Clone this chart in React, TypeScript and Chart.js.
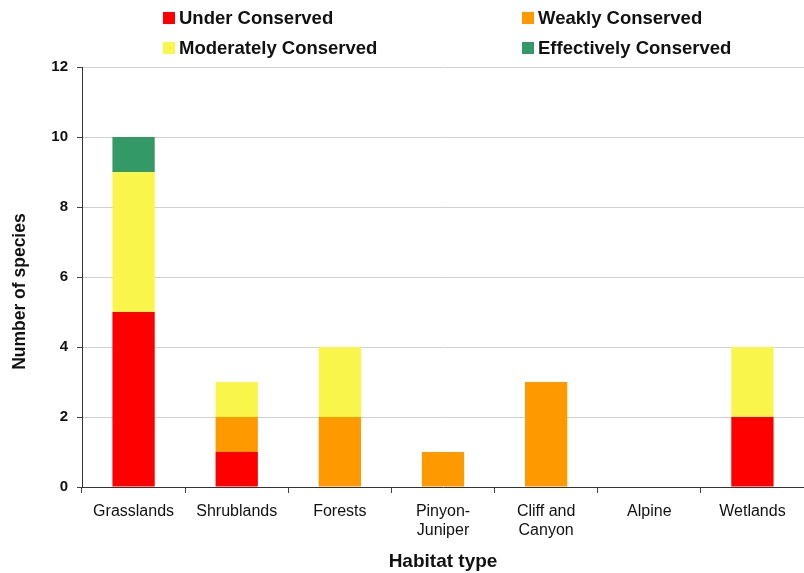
import React, { useEffect, useRef } from "react";
import { Chart, registerables } from "chart.js";

Chart.register(...registerables);

const categories: (string | string[])[] = [
  "Grasslands",
  "Shrublands",
  "Forests",
  ["Pinyon-", "Juniper"],
  ["Cliff and", "Canyon"],
  "Alpine",
  "Wetlands",
];

const seriesNames = [
  "Under Conserved",
  "Weakly Conserved",
  "Moderately Conserved",
  "Effectively Conserved",
];
const underConserved = [5, 1, 0, 0, 0, 0, 2];
const weaklyConserved = [0, 1, 2, 1, 3, 0, 0];
const moderatelyConserved = [4, 1, 2, 0, 0, 0, 2];
const effectivelyConserved = [1, 0, 0, 0, 0, 0, 0];
const seriesColors = ["#FF0000", "#FF9900", "#F9F54B", "#339966"];

const yTickMin = 0;
const yTickMax = 12;
const yTickStep = 2;

const FONT = "'Liberation Sans', Arial, Helvetica, sans-serif";

const legendPlugin = {
  id: "twoColLegend",
  afterDraw(chart: any) {
    const ctx = chart.ctx;
    const cols = [163, 522];
    const rows = [18, 48];
    ctx.save();
    ctx.font = `bold 18.5px ${FONT}`;
    ctx.textBaseline = "middle";
    ctx.textAlign = "left";
    chart.data.datasets.forEach((ds: any, i: number) => {
      const x = cols[i % 2];
      const y = rows[Math.floor(i / 2)];
      ctx.fillStyle = ds.backgroundColor;
      ctx.fillRect(x, y - 6, 12, 12);
      ctx.fillStyle = "#111111";
      ctx.fillText(ds.label, x + 16, y + 1);
    });
    ctx.restore();
  },
};

export default function App() {
  const ref = useRef<HTMLCanvasElement | null>(null);
  useEffect(() => {
    if (!ref.current) return;
    const values = [underConserved, weaklyConserved, moderatelyConserved, effectivelyConserved];
    const chart = new Chart(ref.current, {
      type: "bar",
      data: {
        labels: categories,
        datasets: values.map((v, i) => ({
          label: seriesNames[i],
          data: v,
          backgroundColor: seriesColors[i],
          borderWidth: 0,
          categoryPercentage: 1,
          barPercentage: 0.41,
        })),
      },
      options: {
        responsive: false,
        animation: false,
        layout: { padding: { top: 67, left: 0, right: 0, bottom: 0 } },
        plugins: {
          legend: { display: false },
          tooltip: { enabled: false },
        },
        scales: {
          x: {
            stacked: true,
            afterFit: (s: any) => {
              s.height = 86;
            },
            grid: {
              display: true,
              drawOnChartArea: false,
              drawTicks: true,
              tickLength: 6,
              tickColor: "#444444",
              offset: true,
            },
            border: { display: true, color: "#333333", width: 1 },
            ticks: {
              color: "#111111",
              font: { family: FONT, size: 16 },
              padding: 9,
              maxRotation: 0,
              autoSkip: false,
            },
            title: {
              display: true,
              text: "Habitat type",
              color: "#111111",
              font: { family: FONT, size: 19, weight: "bold" },
              padding: { top: 0, bottom: 0 },
            },
          },
          y: {
            stacked: true,
            min: yTickMin,
            max: yTickMax,
            afterFit: (s: any) => {
              s.width = 82;
            },
            grid: {
              color: "#D0D0D0",
              lineWidth: 1,
              drawTicks: true,
              tickLength: 5,
              tickColor: "#444444",
            },
            border: { display: true, color: "#333333", width: 1 },
            ticks: {
              stepSize: yTickStep,
              color: "#111111",
              font: { family: FONT, size: 15, weight: "bold" },
              padding: 9,
            },
            title: {
              display: true,
              text: "Number of species      ",
              color: "#111111",
              font: { family: FONT, size: 17.5, weight: "bold" },
              padding: { top: 10, bottom: 0 },
            },
          },
        },
      },
      plugins: [legendPlugin],
    });
    return () => chart.destroy();
  }, []);
  return (
    <div style={{ position: "absolute", left: 0, top: 0, width: 804, height: 573, background: "#ffffff" }}>
      <canvas ref={ref} width={804} height={573} style={{ display: "block" }} />
    </div>
  );
}
